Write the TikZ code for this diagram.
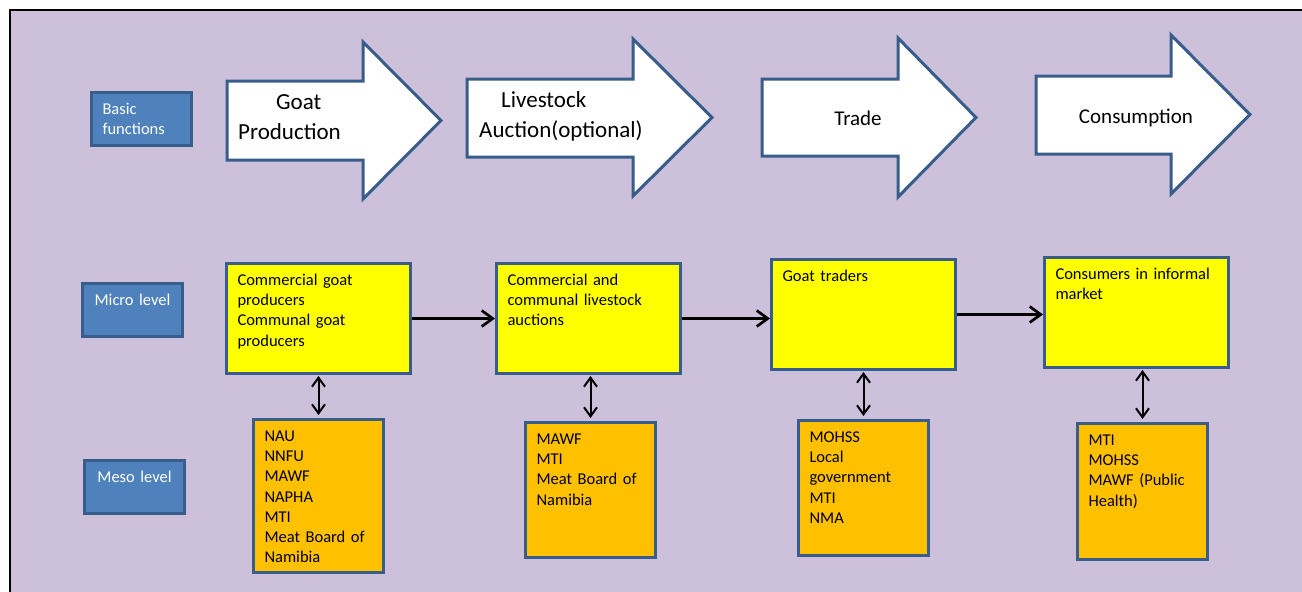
\documentclass[tikz,border=0pt]{standalone}
\usepackage{fontspec}
\setmainfont{Carlito}
\usetikzlibrary{arrows.meta}
\definecolor{BackClr}{HTML}{CCC0DA}
\definecolor{EdgeClr}{HTML}{385D8A}
\definecolor{LevelClr}{HTML}{4F81BD}
\definecolor{MicroClr}{HTML}{FFFF00}
\definecolor{MesoClr}{HTML}{FFC000}

\begin{document}
\begin{tikzpicture}[x=1pt,y=-1pt,
  stage/.style={draw=EdgeClr,line width=3pt,fill=white,line join=miter},
  stagetext/.style={inner sep=0pt,font=\fontsize{23}{30}\selectfont},
  box/.style={draw=EdgeClr,line width=3pt,anchor=north west,inner xsep=11pt,inner ysep=5pt,
    text height=17pt,align=left,font=\fontsize{16.5}{20.2}\selectfont},
  levelbox/.style={box,fill=LevelClr,text=white,text width=78pt,text depth=26pt},
  microbox/.style={box,fill=MicroClr,text width=162pt,text depth=83pt},
  mesobox/.style={box,fill=MesoClr,text width=108pt,text depth=#1},
  flow/.style={line width=2.7pt,-{Straight Barb[length=11pt,width=16pt]}},
  link/.style={line width=2pt,{Straight Barb[length=9pt,width=13pt]}-{Straight Barb[length=9pt,width=13pt]},
    shorten <=1pt,shorten >=3pt}]
\useasboundingbox (0,0) rectangle (1302,592);

\fill[BackClr] (10,10) rectangle (1302,592);
\draw[line width=2pt] (10,592) -- (10,10) -- (1302,10);

% stages
\draw[stage] (227,81) -- (363,81) -- (363,42) -- (441,120.5) -- (363,199) -- (363,160) -- (227,160) -- cycle;
\draw[stage] (467,79) -- (633,79) -- (633,39) -- (712,117.5) -- (633,196) -- (633,157) -- (467,157) -- cycle;
\draw[stage] (762,79) -- (898,79) -- (898,38) -- (976,117.5) -- (898,197) -- (898,156) -- (762,156) -- cycle;
\draw[stage] (1036,76) -- (1171,76) -- (1171,35) -- (1250,114.5) -- (1171,194) -- (1171,154) -- (1036,154) -- cycle;

\node[stagetext,anchor=base west,text width=140pt,align=left] (GP) at (238,109) {\hspace*{38pt}Goat\\Production};
\node[stagetext,anchor=base west,text width=180pt,align=left] (LA) at (479,107) {\hspace*{22pt}Livestock\\Auction(optional)};
\node[stagetext,anchor=base,font=\fontsize{21}{26}\selectfont] (TR) at (858,125) {Trade};
\node[stagetext,anchor=base,font=\fontsize{21}{26}\selectfont] (CO) at (1136,123) {Consumption};

% levels
\node[levelbox] (basic) at (90,91) {Basic\\functions};
\node[levelbox,align=center] (micro) at (81,282) {Micro level};
\node[levelbox,align=center] (meso) at (83,459) {Meso level};

% micro level
\node[microbox] (prod) at (225,262) {Commercial goat\\producers\\Communal goat\\producers};
\node[microbox] (auct) at (495,262) {Commercial and\\communal livestock\\auctions};
\node[microbox] (trad) at (770,258) {Goat traders};
\node[microbox] (cons) at (1043,256) {Consumers in informal\\market};

% meso level
\node[mesobox=126pt] (prodmeso) at (252,418) {NAU\\NNFU\\MAWF\\NAPHA\\MTI\\Meat Board of\\Namibia};
\node[mesobox=108pt] (auctmeso) at (524,421) {MAWF\\MTI\\Meat Board of\\Namibia};
\node[mesobox=108pt] (tradmeso) at (797,419) {MOHSS\\Local\\government\\MTI\\NMA};
\node[mesobox=109pt] (consmeso) at (1076,422) {MTI\\MOHSS\\MAWF (Public\\Health)};

\draw[flow] (prod) -- (auct);
\draw[flow] (auct.east) -- (auct.east -| trad.west);
\draw[flow] (trad.east) -- (trad.east -| cons.west);

\draw[link] (prodmeso.north |- prod.south) -- (prodmeso.north);
\draw[link] (auctmeso.north |- auct.south) -- (auctmeso.north);
\draw[link] (tradmeso.north |- trad.south) -- (tradmeso.north);
\draw[link] (consmeso.north |- cons.south) -- (consmeso.north);

\end{tikzpicture}
\end{document}
